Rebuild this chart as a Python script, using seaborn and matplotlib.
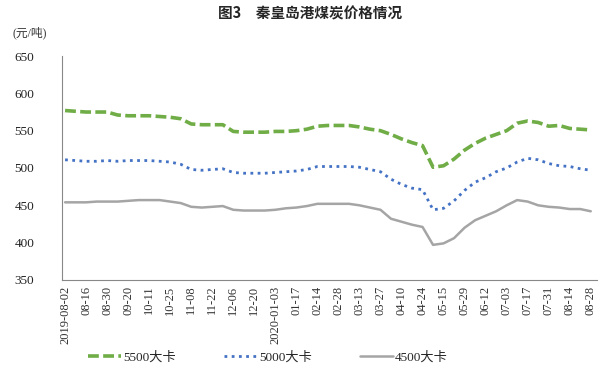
import numpy as np
import pandas as pd
import seaborn as sns
import matplotlib.pyplot as plt

# DATA (weekly points, tick labels every second point)
tick_labels = ["2019-08-02", "08-16", "08-30", "09-20", "10-11", "10-25", "11-08",
               "11-22", "12-06", "12-20", "2020-01-03", "01-17", "02-14", "02-28",
               "03-13", "03-27", "04-10", "04-24", "05-15", "05-29", "06-12",
               "07-03", "07-17", "07-31", "08-14", "08-28"]

price_5500 = [577, 576, 575, 575, 575, 571, 570, 570, 570, 569, 568, 566, 559, 558,
              558, 558, 549, 548, 548, 548, 549, 549, 550, 552, 556, 557, 557, 557,
              555, 552, 550, 545, 539, 534, 530, 501, 503, 512, 524, 533, 540, 545,
              550, 560, 563, 561, 556, 557, 553, 552, 551]
price_5000 = [511, 510, 509, 509, 510, 509, 510, 510, 510, 509, 508, 505, 498, 497,
              498, 499, 494, 493, 493, 493, 494, 495, 496, 498, 502, 502, 502, 502,
              501, 498, 495, 485, 478, 473, 471, 444, 446, 456, 470, 481, 487, 495,
              500, 508, 513, 511, 506, 503, 502, 499, 497]
price_4500 = [454, 454, 454, 455, 455, 455, 456, 457, 457, 457, 455, 453, 448, 447,
              448, 449, 444, 443, 443, 443, 444, 446, 447, 449, 452, 452, 452, 452,
              450, 447, 444, 432, 428, 424, 421, 397, 399, 406, 420, 430, 436, 442,
              450, 457, 455, 450, 448, 447, 445, 445, 442]

series_names = ["5500大卡", "5000大卡", "4500大卡"]

# STYLE
sns.set_style("white")
plt.rcParams["font.family"] = ["Liberation Serif", "Noto Sans CJK SC"]

df = pd.DataFrame({"idx": np.arange(len(price_5500)),
                   series_names[0]: price_5500,
                   series_names[1]: price_5000,
                   series_names[2]: price_4500})

fig = plt.figure(figsize=(6.13, 3.84), dpi=100)
ax = fig.add_axes([0.101, 0.271, 0.873, 0.583])

styles = {
    series_names[0]: dict(color="#70AD47", linestyle=(0, (3, 1.2)), linewidth=2.6),
    series_names[1]: dict(color="#4472C4", linestyle=(0, (1, 1.6)), linewidth=2.0),
    series_names[2]: dict(color="#A5A5A5", linestyle="-", linewidth=1.8),
}
for name in series_names:
    sns.lineplot(data=df, x="idx", y=name, ax=ax, label=name, **styles[name])

ax.set_xlim(-0.3, len(price_5500) - 1 + 0.6)
ax.set_ylim(350, 650)
ax.set_yticks(range(350, 651, 50))
ax.set_xticks(range(0, len(price_5500), 2))
ax.set_xticklabels(tick_labels, rotation=90, fontsize=9, color="#333333")
ax.set_xticks(range(0, len(price_5500), 10), minor=True)
ax.tick_params(axis="x", which="major", length=0, pad=4)
ax.tick_params(axis="x", which="minor", length=4, direction="in", color="#888888")
ax.tick_params(axis="y", length=3, direction="in", color="#888888", labelsize=9.5,
               labelcolor="#222222", pad=20)
ax.set_xlabel("")
ax.set_ylabel("")

for side in ["top", "right"]:
    ax.spines[side].set_visible(False)
for side in ["left", "bottom"]:
    ax.spines[side].set_color("#888888")
    ax.spines[side].set_linewidth(0.8)

ax.get_legend().remove()
handles, labels = ax.get_legend_handles_labels()
fig.legend(handles, labels, loc="center", bbox_to_anchor=(0.437, 0.07), ncol=3,
           frameon=False, fontsize=9.5, handlelength=2.5, columnspacing=3.6,
           handletextpad=0.2)

fig.text(0.505, 0.965, "图3　秦皇岛港煤炭价格情况", ha="center", va="center",
         fontsize=10.5, fontweight="bold", family=["Noto Sans CJK SC", "DejaVu Sans"])
fig.text(0.02, 0.915, "(元/吨)", ha="left", va="center", fontsize=8.5, color="#333333")

fig.savefig("out.png", dpi=100)
